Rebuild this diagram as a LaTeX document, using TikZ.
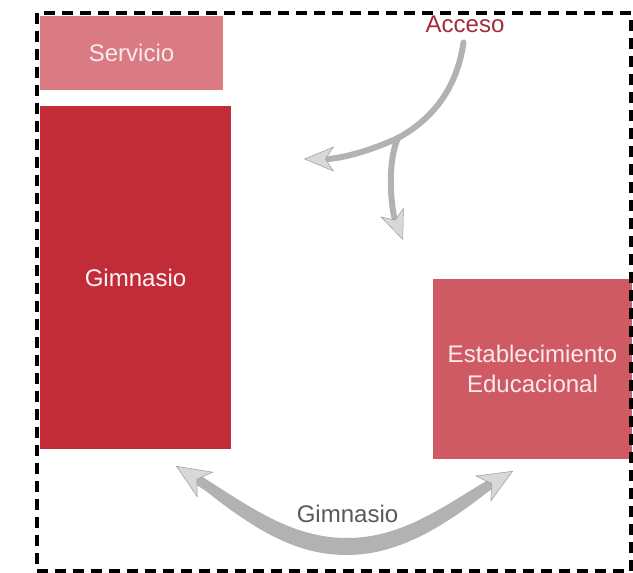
\documentclass[tikz,border=0pt]{standalone}
\usepackage{fontspec}
\setmainfont{Liberation Sans}
\usetikzlibrary{arrows.meta}
\definecolor{crimson}{RGB}{194, 43, 56}
\definecolor{rosewood}{RGB}{208, 90, 100}
\definecolor{blush}{RGB}{218, 123, 132}
\definecolor{wine}{RGB}{165, 42, 61}
\definecolor{ash}{RGB}{178, 178, 178}
\definecolor{mist}{RGB}{216, 216, 216}
\definecolor{slate}{RGB}{89, 89, 89}

\tikzset{
    zone/.style={rectangle, inner sep=0pt, align=center, font=\fontsize{20.5}{25.5}\selectfont},
    smallhead/.tip={Stealth[length=9mm, width=7.5mm, inset=2.5mm, fill=mist, color=ash!85!black, line width=0.4pt]},
    bighead/.tip={Stealth[length=10.5mm, width=9mm, inset=3mm, fill=mist, color=ash!85!black, line width=0.4pt]},
    flowline/.style={ash, line width=1.8mm, line cap=round},
    flow/.style={flowline, -smallhead},
}

\begin{document}
\begin{tikzpicture}[x=0.3mm, y=-0.3mm]
            % Frame to fix the page size:
            \useasboundingbox                                          (  0.0,   0.0) rectangle (633.0, 573.0);
            % Zones:
            \node[zone, fill=blush,    text=white!85!blush,    minimum width=54.9mm, minimum height=22.2mm]  (servicio)        at (131.5,  53.0) {Servicio};
            \node[zone, fill=crimson,  text=white!95!crimson,  minimum width=57.3mm, minimum height=102.9mm] (gimnasio)        at (135.5, 277.5) {Gimnasio};
            \node[zone, fill=rosewood, text=white!88!rosewood, minimum width=59.7mm, minimum height=54.0mm]  (establecimiento) at (532.5, 369.0) {Establecimiento\\Educacional};
            % Labels:
            \node[zone, text=wine]                                                                            (acceso)          at (465.0,  24.0) {Acceso};
            \node[zone, text=slate]                                                                           (gimlabel)        at (347.5, 514.0) {Gimnasio};
            % Access arrow:
            \coordinate (fork)      at (398.0, 138.0);
            \coordinate (westtip)   at (304.0, 159.0);
            \coordinate (southtip)  at (403.0, 240.0);
            \draw[flowline, shorten <=3mm] (acceso.south) .. controls (458.0,  80.0) and (440.0, 115.0) .. (fork);
            \draw[flow]                    (fork)         .. controls (370.0, 151.0) and (340.0, 159.0) .. (westtip);
            \draw[flow]                    (fork)         .. controls (386.0, 165.0) and (392.0, 212.0) .. (southtip);
            % Gym arrow, thicker in the middle:
            \coordinate (gymwest)   at (176.0, 466.0);
            \coordinate (gymeast)   at (513.0, 471.0);
            \fill[ash]  (gymwest)      .. controls (250.0, 530.0) and (295.0, 555.0) .. (347.0, 555.0)
                                       .. controls (400.0, 555.0) and (450.0, 525.0) .. (gymeast)
                                       .. controls (447.0, 510.0) and (404.0, 543.0) .. (347.0, 543.0)
                                       .. controls (290.0, 543.0) and (247.0, 511.0) .. (gymwest) -- cycle;
            \draw[ash, line width=3mm, bighead-bighead]
                        (gymwest)      .. controls (247.0, 511.0) and (290.0, 543.0) .. (347.0, 543.0)
                                       .. controls (404.0, 543.0) and (447.0, 510.0) .. (gymeast);
            % Dashed border:
            \draw[black, line width=1mm, dash pattern=on 3.3mm off 2.1mm] ( 37.0,  13.0) rectangle (631.0, 571.0);
        \end{tikzpicture}
\end{document}
